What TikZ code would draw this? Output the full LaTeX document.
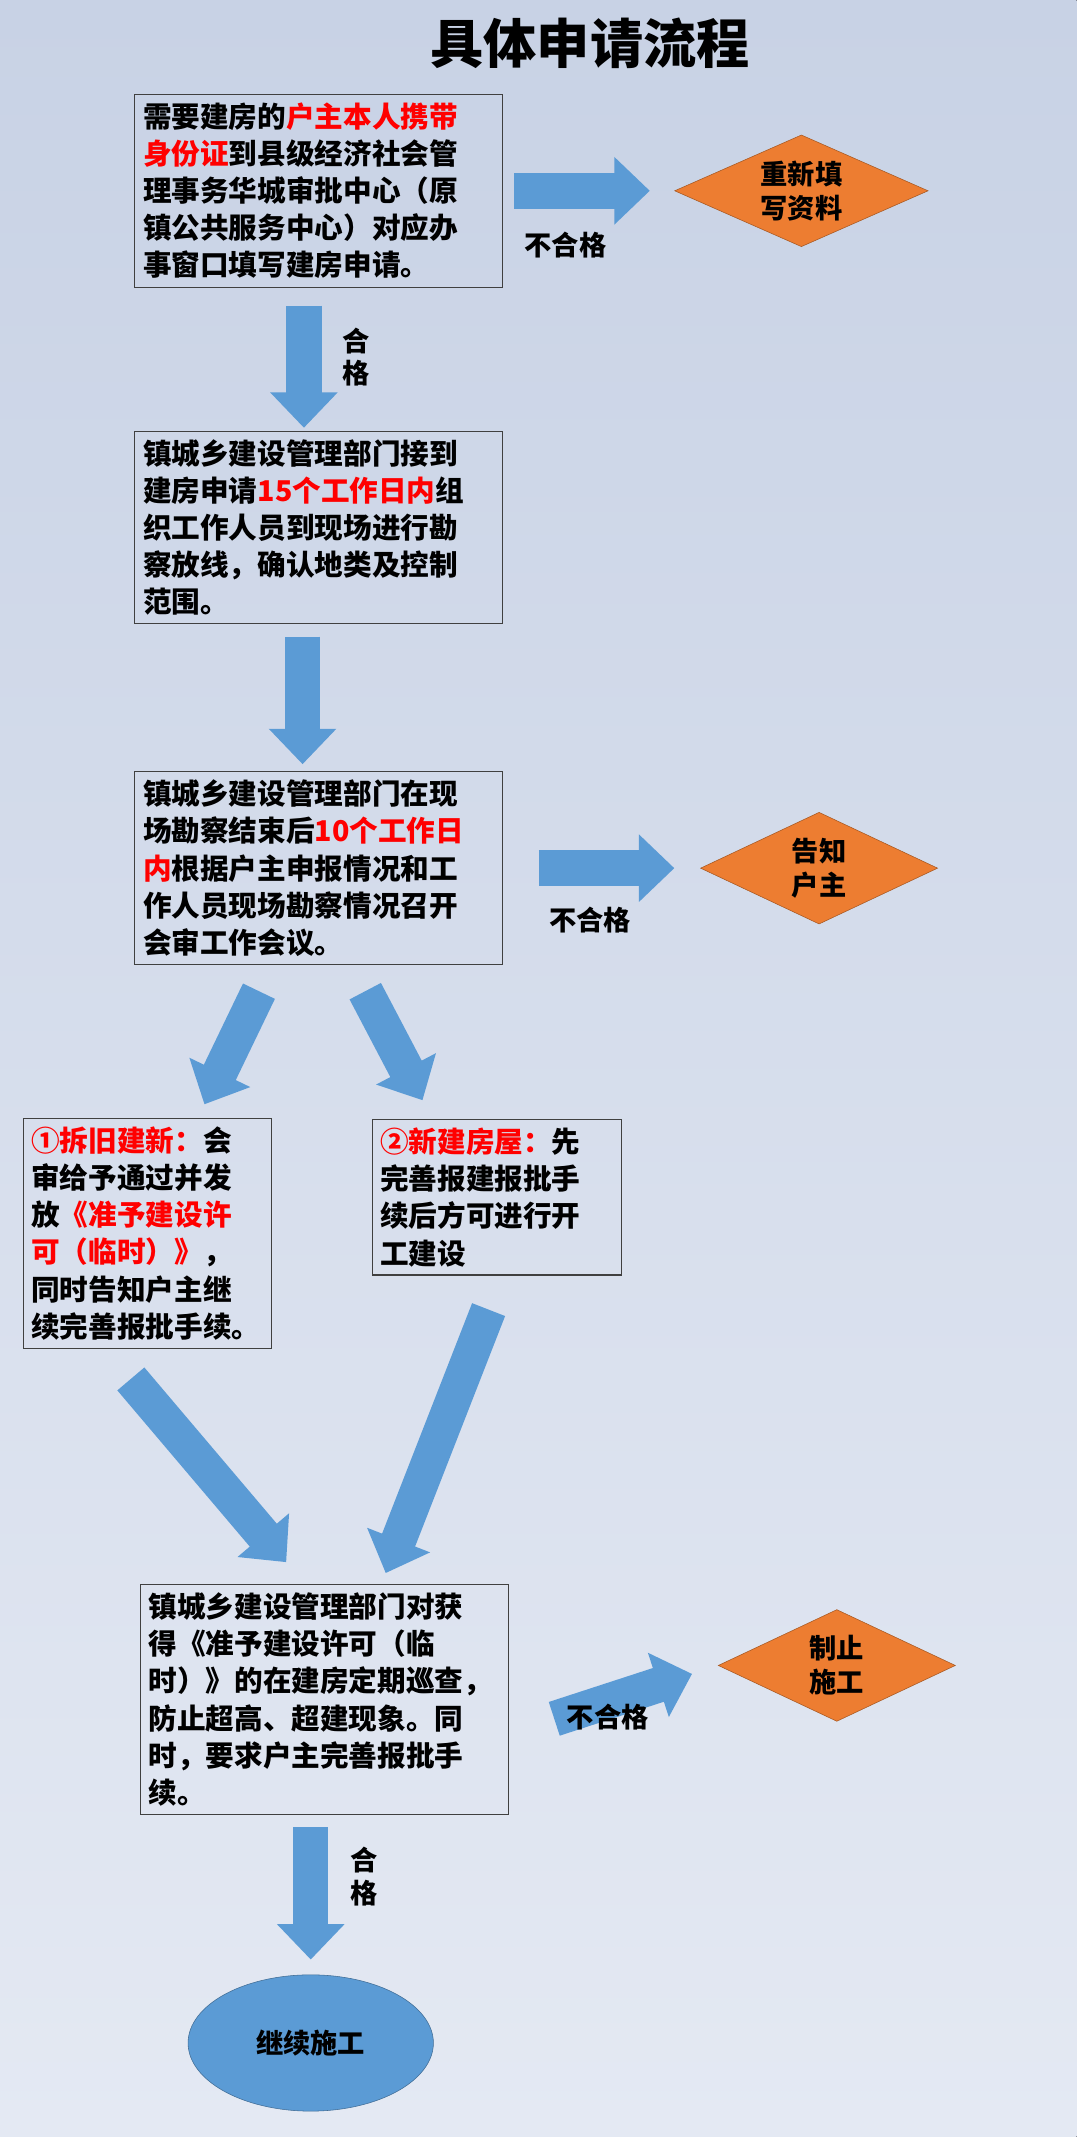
\documentclass[tikz,border=0pt]{standalone}
\usepackage{fontspec}
\setmainfont{Noto Sans CJK SC}
\usetikzlibrary{positioning,shapes,arrows.meta}
\definecolor{bgtop}{HTML}{C8D2E5}
\definecolor{bgbot}{HTML}{E4E9F3}
\definecolor{fatblue}{HTML}{5B9BD5}
\definecolor{diaorange}{HTML}{ED7D31}
\newcommand{\hl}[1]{\textcolor{red}{#1}}
\begin{document}
\begin{tikzpicture}[x=1pt,y=-1pt,
bg/.style={top color=bgtop,bottom color=bgbot,draw=none},
rec/.style={
    rectangle,
    draw=black!75,
    line width=0.8pt,
    align=left,
    inner sep=6pt,
    font=\fontsize{21}{27.3}\selectfont\bfseries
    },
dia/.style={
    diamond,
    aspect=2.2,
    fill=diaorange,
    draw=diaorange!70!black,
    align=center,
    inner sep=0pt,
    font=\fontsize{20}{25}\selectfont\bfseries
    },
fat/.style={
    draw=fatblue,
    line width=26pt,
    -{Triangle[length=26pt,width=48pt]}
    },
lab/.style={font=\fontsize{20}{24}\selectfont\bfseries,align=center}
]
\fill[bg] (0,0) rectangle (790,1568);
\useasboundingbox (0,0) rectangle (790,1568);
\node(title) at (433,32) {\fontsize{39}{42}\selectfont\bfseries 具体申请流程};
\node(apply) [rec,minimum width=270pt,minimum height=140pt,text width=258pt] at (234,140)
 {需要建房的\hl{户主本人携带}\\\hl{身份证}到县级经济社会管\\理事务华城审批中心（原\\镇公共服务中心）对应办\\事窗口填写建房申请。};
\node(refill) [dia,minimum width=186pt,minimum height=82pt] at (588,140) {重新填\\写资料};
\node(survey) [rec,minimum width=270pt,minimum height=139pt,text width=258pt] at (234,387)
 {镇城乡建设管理部门接到\\建房申请\hl{15个工作日内}组\\织工作人员到现场进行勘\\察放线，确认地类及控制\\范围。};
\node(review) [rec,minimum width=270pt,minimum height=138pt,text width=258pt] at (234,637)
 {镇城乡建设管理部门在现\\场勘察结束后\hl{10个工作日}\\\hl{内}根据户主申报情况和工\\作人员现场勘察情况召开\\会审工作会议。};
\node(notify) [dia,minimum width=174pt,minimum height=82pt] at (601,637) {告知\\户主};
\node(rebuild) [rec,minimum width=182pt,minimum height=166pt,text width=170pt] at (108,905)
 {\hl{①拆旧建新：}会\\审给予通过并发\\放\hl{《准予建设许}\\\hl{可（临时）》}，\\同时告知户主继\\续完善报批手续。};
\node(newhouse) [rec,minimum width=183pt,minimum height=113pt,text width=171pt] at (364.5,878.5)
 {\hl{②新建房屋：}先\\完善报建报批手\\续后方可进行开\\工建设};
\node(patrol) [rec,minimum width=270pt,minimum height=168pt,text width=258pt] at (238,1247)
 {镇城乡建设管理部门对获\\得《准予建设许可（临\\时）》的在建房定期巡查，\\防止超高、超建现象。同\\时，要求户主完善报批手\\续。};
\node(stop) [dia,minimum width=174pt,minimum height=82pt] at (614,1222) {制止\\施工};
\node(go) [ellipse,fill=fatblue,draw=fatblue!70!black,minimum width=180pt,minimum height=100pt,
 font=\fontsize{20}{24}\selectfont\bfseries] at (228,1499) {继续施工};
% fat arrows
\draw[fat,shorten <=8pt,shorten >=18pt] (apply.east) -- (refill.west);
\node[lab] at (415,180) {不合格};
\draw[fat,shorten <=13pt,shorten >=2pt] ([xshift=-11pt]apply.south) -- ([xshift=-11pt]survey.north);
\node[lab] at (261,262) {合\\格};
\draw[fat,shorten <=9pt,shorten >=5pt] ([xshift=-12pt]survey.south) -- ([xshift=-12pt]review.north);
\draw[fat,shorten <=26pt,shorten >=19pt] (review.east) -- (notify.west);
\node[lab] at (433,675) {不合格};
\draw[fat] ([xshift=-44pt,yshift=-19pt]review.south) -- ([xshift=-84pt,yshift=-102pt]review.south);
\draw[fat] ([xshift=34pt,yshift=-19pt]review.south) -- ([xshift=76pt,yshift=-99pt]review.south);
\draw[fat] ([xshift=-12pt,yshift=-22pt]rebuild.south) -- ([xshift=-28pt,yshift=16pt]patrol.north);
\draw[fat] ([xshift=-6pt,yshift=-25pt]newhouse.south) -- ([xshift=45pt,yshift=8pt]patrol.north);
\draw[fat,shorten <=35pt,shorten >=20pt] ([yshift=-25pt]patrol.east) -- (stop.west);
\node[lab] at (446,1260) {不合格};
\draw[fat,shorten <=9pt,shorten >=11pt] ([xshift=-10pt]patrol.south) -- ([xshift=0pt]go.north);
\node[lab] at (267,1377) {合\\格};
\end{tikzpicture}
\end{document}
